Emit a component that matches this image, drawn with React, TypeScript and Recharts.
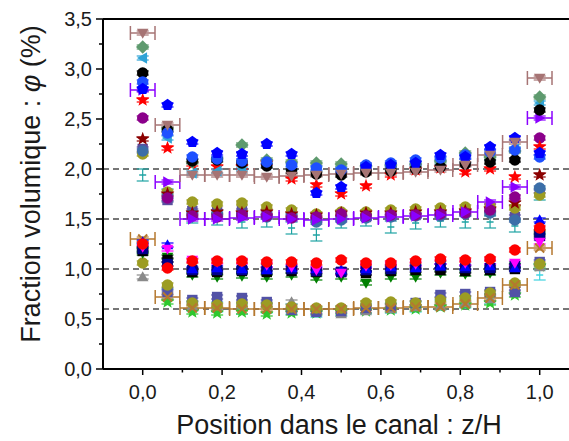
import React from 'react'
import { ScatterChart, Scatter, XAxis, YAxis, ErrorBar, ReferenceLine } from 'recharts'

const FONT = '"Liberation Sans", Arial, sans-serif'

// stations along the channel (z/H)
const positions = [0, 0.0625, 0.125, 0.1875, 0.25, 0.3125, 0.375, 0.4375, 0.5, 0.5625, 0.625, 0.6875, 0.75, 0.8125, 0.875, 0.9375, 1]
const xTicks = [0, 0.1, 0.2, 0.3, 0.4, 0.5, 0.6, 0.7, 0.8, 0.9, 1.0]
const yTicks = [0, 0.25, 0.5, 0.75, 1, 1.25, 1.5, 1.75, 2, 2.25, 2.5, 2.75, 3, 3.25, 3.5]
const refLevels = [2.0, 1.5, 1.0, 0.6]
const X_ERR = 0.031

// phi ~ 2 %
const brownDown = [3.36, 2.44, 1.94, 1.94, 1.94, 1.92, 1.93, 1.94, 1.95, 1.96, 1.96, 1.97, 1.99, 2.04, 2.14, 2.27, 2.91]
const bluePent = [2.80, 2.64, 2.27, 2.16, 2.15, 2.25, 2.15, 1.76, 1.82, 2.02, 2.04, 2.06, 2.14, 2.12, 2.22, 2.31, 2.16]
const blueCircle = [2.87, 2.36, 2.12, 2.10, 2.08, 2.07, 2.04, 2.01, 1.99, 2.04, 2.06, 2.09, 2.11, 2.14, 2.17, 2.19, 2.12]
const black20 = [2.96, 2.39, 2.08, 2.09, 2.06, 2.03, 1.98, 1.95, 1.94, 1.97, 1.98, 2.00, 2.02, 2.05, 2.07, 2.09, 2.59]
const greenDiamond = [3.22, 2.40, 2.07, 2.10, 2.24, 2.09, 2.07, 2.06, 2.05, 2.03, 2.04, 2.05, 2.08, 2.16, 2.12, 2.18, 2.72]
const cyanLeft = [3.11, 2.31, 1.96, 1.98, 2.00, 2.04, 2.01, 2.00, 2.00, 2.00, 2.01, 2.03, 2.05, 2.08, 2.11, 2.20, 2.66]
const redStar = [2.69, 2.21, 2.05, 2.02, 2.02, 2.06, 1.90, 1.84, 1.75, 1.83, 1.94, 1.99, 2.01, 1.97, 2.00, 1.92, 2.22]

// phi ~ 1.5 %
const purpleRight = [2.79, 1.87, 1.50, 1.50, 1.51, 1.52, 1.50, 1.49, 1.50, 1.51, 1.52, 1.53, 1.54, 1.57, 1.67, 1.82, 2.51]
const purpleCircle = [2.51, 1.71, 1.53, 1.52, 1.54, 1.53, 1.51, 1.52, 1.55, 1.53, 1.54, 1.54, 1.55, 1.56, 1.59, 1.72, 2.31]
const wineStar = [2.30, 1.75, 1.56, 1.57, 1.56, 1.57, 1.55, 1.54, 1.56, 1.56, 1.56, 1.57, 1.57, 1.58, 1.60, 1.66, 1.94]
const steelCircle = [2.18, 1.73, 1.55, 1.55, 1.54, 1.52, 1.53, 1.47, 1.49, 1.51, 1.52, 1.53, 1.53, 1.55, 1.56, 1.49, 1.81]
const olive15 = [2.15, 1.77, 1.67, 1.65, 1.66, 1.62, 1.59, 1.55, 1.57, 1.57, 1.59, 1.60, 1.61, 1.62, 1.63, 1.61, 1.74]
const slate15 = [2.20, 1.69, 1.58, 1.57, 1.58, 1.55, 1.53, 1.49, 1.51, 1.52, 1.53, 1.54, 1.56, 1.57, 1.58, 1.52, 1.78]
const teal15 = [1.94, 1.74, 1.52, 1.50, 1.47, 1.48, 1.41, 1.34, 1.47, 1.49, 1.42, 1.46, 1.48, 1.47, 1.47, 1.43, 1.75]

// phi ~ 1 %
const redCircle = [1.25, 1.01, 1.08, 1.08, 1.08, 1.07, 1.07, 1.06, 1.09, 1.06, 1.06, 1.08, 1.10, 1.09, 1.10, 1.19, 1.41]
const magentaDown = [1.22, 1.20, 1.09, 1.07, 1.07, 1.04, 1.02, 0.99, 0.96, 1.03, 1.04, 1.05, 1.07, 1.06, 1.07, 1.06, 1.27]
const blueUp = [1.27, 1.24, 1.00, 1.01, 1.00, 0.99, 1.01, 1.00, 0.99, 1.00, 1.02, 1.01, 1.03, 1.02, 1.03, 1.01, 1.49]
const navySquare = [1.20, 1.05, 0.99, 0.99, 0.99, 1.00, 1.00, 0.98, 0.97, 0.99, 1.00, 1.02, 1.03, 1.01, 1.01, 1.03, 1.33]
const black10 = [1.18, 1.09, 0.97, 0.97, 0.98, 0.97, 0.98, 0.97, 0.97, 0.96, 0.98, 0.99, 0.99, 0.98, 0.99, 1.00, 1.35]
const greenDown = [1.16, 1.12, 0.94, 0.92, 0.93, 0.92, 0.94, 0.91, 0.92, 0.86, 0.92, 0.92, 0.96, 0.95, 0.96, 1.03, 1.37]

// phi ~ 0.6 %
const brownX = [1.30, 0.72, 0.61, 0.61, 0.60, 0.60, 0.60, 0.60, 0.60, 0.61, 0.61, 0.62, 0.62, 0.65, 0.71, 0.84, 1.21]
const olive06 = [1.06, 0.84, 0.66, 0.64, 0.65, 0.64, 0.62, 0.61, 0.61, 0.66, 0.67, 0.66, 0.69, 0.71, 0.76, 0.86, 1.05]
const slate06 = [1.24, 0.77, 0.69, 0.72, 0.71, 0.67, 0.59, 0.57, 0.58, 0.61, 0.63, 0.66, 0.74, 0.75, 0.77, 0.77, 1.07]
const grayUp = [0.92, 0.79, 0.63, 0.63, 0.64, 0.65, 0.67, 0.58, 0.55, 0.58, 0.60, 0.62, 0.63, 0.66, 0.70, 0.80, 1.02]
const greenStar = [1.19, 0.67, 0.57, 0.56, 0.57, 0.55, 0.56, 0.56, 0.57, 0.58, 0.59, 0.60, 0.62, 0.64, 0.66, 0.74, 1.03]
const cyan06 = [1.21, 0.75, 0.63, 0.62, 0.60, 0.61, 0.60, 0.57, 0.58, 0.60, 0.61, 0.62, 0.64, 0.66, 0.70, 0.81, 0.94]

const seriesList = [
  { name: 'cyan06', values: cyan06, color: '#3FD3E0', shape: 'tick', ey: 0.05 },
  { name: 'greenStar', values: greenStar, color: '#2EC82E', shape: 'star', ey: 0.02 },
  { name: 'grayUp', values: grayUp, color: '#8A8A8A', shape: 'up', ey: 0.02 },
  { name: 'slate06', values: slate06, color: '#5252A6', shape: 'square', ey: 0.02 },
  { name: 'olive06', values: olive06, color: '#9C9C22', shape: 'circle', ey: 0.02 },
  { name: 'brownX', values: brownX, color: '#B5782F', shape: 'x', ex: X_ERR, ey: 0.02 },
  { name: 'greenDown', values: greenDown, color: '#008000', shape: 'down', ey: 0.02 },
  { name: 'black10', values: black10, color: '#000000', shape: 'square', ey: 0.02 },
  { name: 'navySquare', values: navySquare, color: '#00008B', shape: 'square', ey: 0.02 },
  { name: 'blueUp', values: blueUp, color: '#0000FF', shape: 'up', ey: 0.02 },
  { name: 'magentaDown', values: magentaDown, color: '#FF00FF', shape: 'down', ey: 0.02 },
  { name: 'redCircle', values: redCircle, color: '#FF0000', shape: 'circle', ey: 0.02 },
  { name: 'teal15', values: teal15, color: '#1FA3A3', shape: 'tick', ey: 0.06 },
  { name: 'slate15', values: slate15, color: '#5A4FA0', shape: 'square', ey: 0.02 },
  { name: 'olive15', values: olive15, color: '#9C9C22', shape: 'circle', ey: 0.02 },
  { name: 'steelCircle', values: steelCircle, color: '#3B6EA8', shape: 'circle', ey: 0.02 },
  { name: 'wineStar', values: wineStar, color: '#8B0000', shape: 'star', ey: 0.02 },
  { name: 'purpleCircle', values: purpleCircle, color: '#8B008B', shape: 'circle', ey: 0.02 },
  { name: 'purpleRight', values: purpleRight, color: '#8A00FF', shape: 'right', ex: X_ERR, ey: 0.02 },
  { name: 'redStar', values: redStar, color: '#FF0000', shape: 'star', ey: 0.02 },
  { name: 'cyanLeft', values: cyanLeft, color: '#2EA3D6', shape: 'left', ey: 0.02 },
  { name: 'greenDiamond', values: greenDiamond, color: '#5E9A6E', shape: 'diamond', ey: 0.02 },
  { name: 'black20', values: black20, color: '#000000', shape: 'circle', ey: 0.02 },
  { name: 'blueCircle', values: blueCircle, color: '#1E50FF', shape: 'circle', ey: 0.02 },
  { name: 'bluePent', values: bluePent, color: '#0000FF', shape: 'pentagon', ey: 0.02 },
  { name: 'brownDown', values: brownDown, color: '#A67474', shape: 'down', ex: X_ERR, ey: 0.02 },
]

const polyPts = (cx: number, cy: number, n: number, r: number, rot: number, inner?: number) => {
  const pts: string[] = []
  const k = inner ? n * 2 : n
  for (let i = 0; i < k; i++) {
    const rr = inner && i % 2 ? inner : r
    const a = rot + (i * Math.PI * 2) / k
    pts.push(`${cx + rr * Math.cos(a)},${cy + rr * Math.sin(a)}`)
  }
  return pts.join(' ')
}

const makeShape = (kind: string, color: string) => (p: any) => {
  const { cx, cy } = p
  if (cx == null || cy == null) return <g />
  const r = 5.7
  const up = -Math.PI / 2
  switch (kind) {
    case 'circle':
      return <circle cx={cx} cy={cy} r={r} fill={color} />
    case 'square':
      return <rect x={cx - r + 0.5} y={cy - r + 0.5} width={2 * r - 1} height={2 * r - 1} fill={color} />
    case 'up':
      return <polygon points={polyPts(cx, cy + 1, 3, r + 1, up)} fill={color} />
    case 'down':
      return <polygon points={polyPts(cx, cy - 1, 3, r + 1, Math.PI / 2)} fill={color} />
    case 'left':
      return <polygon points={polyPts(cx + 1, cy, 3, r + 1, Math.PI)} fill={color} />
    case 'right':
      return <polygon points={polyPts(cx - 1, cy, 3, r + 1, 0)} fill={color} />
    case 'diamond':
      return <polygon points={polyPts(cx, cy, 4, r + 1, up)} fill={color} />
    case 'pentagon':
      return <polygon points={polyPts(cx, cy, 5, r + 0.5, up)} fill={color} />
    case 'star':
      return <polygon points={polyPts(cx, cy, 5, r + 1.5, up, 3)} fill={color} />
    case 'x':
      return (
        <g stroke={color} strokeWidth={2}>
          <line x1={cx - 4.5} y1={cy - 4.5} x2={cx + 4.5} y2={cy + 4.5} />
          <line x1={cx - 4.5} y1={cy + 4.5} x2={cx + 4.5} y2={cy - 4.5} />
        </g>
      )
    default:
      return <line x1={cx - 3.5} x2={cx + 3.5} y1={cy} y2={cy} stroke={color} strokeWidth={1.5} />
  }
}

const fmt = (v: number) => v.toFixed(1).replace('.', ',')

const YTick = (p: any) => {
  const v = p.payload.value
  const major = Math.abs(v * 2 - Math.round(v * 2)) < 1e-6
  return (
    <g>
      <line x1={p.x} x2={p.x - (major ? 7 : 4)} y1={p.y} y2={p.y} stroke="#000" strokeWidth={1.5} />
      {major && (
        <text x={p.x - 11} y={p.y} dy={7} textAnchor="end" fontSize={20} fontFamily={FONT} fill="#1a1a1a">
          {fmt(v)}
        </text>
      )}
    </g>
  )
}

const XTick = (p: any) => {
  const v = p.payload.value
  const major = Math.round(v * 10) % 2 === 0
  return (
    <g>
      <line x1={p.x} x2={p.x} y1={p.y} y2={p.y + (major ? 6 : 3.5)} stroke="#000" strokeWidth={1.5} />
      {major && (
        <text x={p.x} y={p.y} dy={30} textAnchor="middle" fontSize={20} fontFamily={FONT} fill="#1a1a1a">
          {fmt(v)}
        </text>
      )}
    </g>
  )
}

export default function App() {
  return (
    <div style={{ position: 'absolute', left: 0, top: 0, width: 569, height: 441, overflow: 'hidden', background: '#fff' }}>
      <ScatterChart width={600} height={441} margin={{ top: 19, right: 20.6, left: 0, bottom: 0 }}>
        <XAxis
          type="number"
          dataKey="x"
          domain={[-0.1, 1.1]}
          ticks={xTicks}
          interval={0}
          tickSize={0}
          tickMargin={0}
          tick={<XTick />}
          height={72}
          axisLine={{ stroke: '#000', strokeWidth: 2 }}
          allowDataOverflow
        />
        <YAxis
          type="number"
          dataKey="y"
          domain={[0, 3.5]}
          ticks={yTicks}
          interval={0}
          tickSize={0}
          tickMargin={0}
          tick={<YTick />}
          width={103}
          axisLine={{ stroke: '#000', strokeWidth: 2 }}
          allowDataOverflow
        />
        <ReferenceLine y={3.5} stroke="#000" strokeWidth={2} />
        {refLevels.map((lv) => (
          <ReferenceLine key={lv} y={lv} stroke="#4a4a4a" strokeWidth={1.5} strokeDasharray="6 4" />
        ))}
        {seriesList.map((s) => (
          <Scatter
            key={s.name}
            name={s.name}
            data={positions.map((x, i) => ({ x, y: s.values[i], ex: s.ex || 0, ey: s.ey || 0 }))}
            shape={makeShape(s.shape, s.color)}
            isAnimationActive={false}
          >
            {s.ex ? <ErrorBar dataKey="ex" direction="x" width={7} stroke={s.color} strokeWidth={1.5} /> : null}
            <ErrorBar dataKey="ey" direction="y" width={6} stroke={s.color} strokeWidth={1.2} />
          </Scatter>
        ))}
        <text x={339} y={434} textAnchor="middle" fontSize={27} fontFamily={FONT} fill="#1a1a1a">
          Position dans le canal : z/H
        </text>
        <text
          x={40}
          y={184}
          transform="rotate(-90 40 184)"
          textAnchor="middle"
          fontSize={27}
          fontFamily={FONT}
          fill="#1a1a1a"
        >
          Fraction volumique : <tspan fontStyle="italic">φ</tspan> (%)
        </text>
      </ScatterChart>
    </div>
  )
}
